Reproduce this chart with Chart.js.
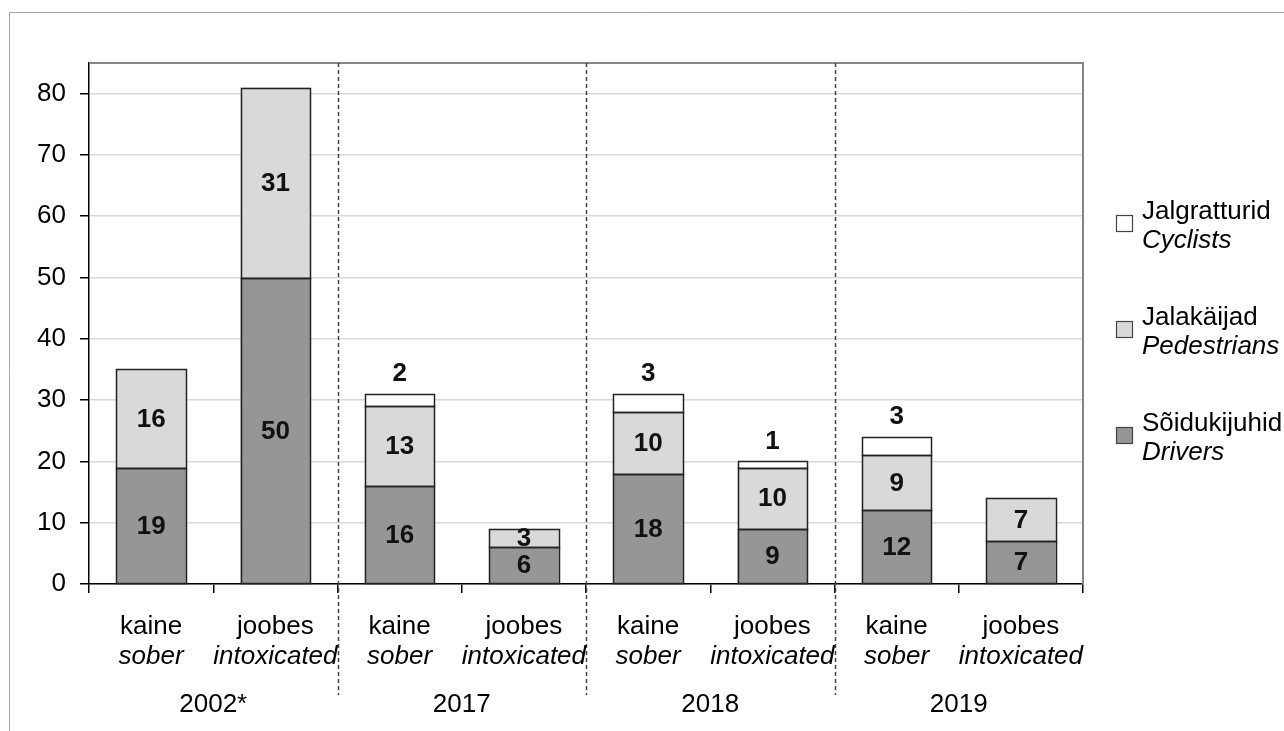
<!DOCTYPE html>
<html>
<head>
<meta charset="utf-8">
<script src="https://cdn.jsdelivr.net/npm/chart.js@4.4.1/dist/chart.umd.min.js"></script>
<style>
  html, body { margin: 0; padding: 0; background: #fff; }
  #wrap { position: relative; width: 1284px; height: 731px; }
</style>
</head>
<body>
<div id="wrap"><canvas id="chart" width="1284" height="731"></canvas></div>
<script>
// categories: state (Estonian / English) per year
const stateEt = ['kaine', 'joobes', 'kaine', 'joobes', 'kaine', 'joobes', 'kaine', 'joobes']
const stateEn = ['sober', 'intoxicated', 'sober', 'intoxicated', 'sober', 'intoxicated', 'sober', 'intoxicated']
const years = ['2002*', '2017', '2018', '2019']

// series
const drivers = [19, 50, 16, 6, 18, 9, 12, 7]
const pedestrians = [16, 31, 13, 3, 10, 10, 9, 7]
const cyclists = [0, 0, 2, 0, 3, 1, 3, 0]

const yTicks = [0, 10, 20, 30, 40, 50, 60, 70, 80]

const seriesNames = [
  ['Jalgratturid', 'Cyclists'],
  ['Jalakäijad', 'Pedestrians'],
  ['Sõidukijuhid', 'Drivers'],
]
const seriesColors = ['#ffffff', '#d9d9d9', '#969696']

const FONT = '"Liberation Sans", Arial, sans-serif'
const FS = 26

const framePlugin = {
  id: 'frame',
  beforeDraw(chart) {
    const ctx = chart.ctx
    ctx.save()
    ctx.strokeStyle = '#a6a6a6'
    ctx.lineWidth = 1
    ctx.beginPath()
    ctx.moveTo(9.5, 731)
    ctx.lineTo(9.5, 12.5)
    ctx.lineTo(1284, 12.5)
    ctx.stroke()
    ctx.restore()
  },
  afterDatasetsDraw(chart) {
    // crisp bar outlines
    const ctx = chart.ctx
    ctx.save()
    ctx.strokeStyle = '#222'
    ctx.lineWidth = 1.5
    chart.data.datasets.forEach((ds, di) => {
      chart.getDatasetMeta(di).data.forEach((el, i) => {
        if (!ds.data[i]) return
        const l = Math.round(el.x - el.width / 2) + 0.5
        const r = Math.round(el.x + el.width / 2) + 0.5
        const t = Math.round(el.y) + 0.5
        const b = Math.round(el.base) + 0.5
        ctx.strokeRect(l, t, r - l, b - t)
      })
    })
    ctx.restore()
  },
  afterDraw(chart) {
    const ctx = chart.ctx
    const area = chart.chartArea
    const x = chart.scales.x
    ctx.save()
    // plot area top / right border
    ctx.strokeStyle = '#858585'
    ctx.lineWidth = 2
    ctx.beginPath()
    ctx.moveTo(area.left, area.top)
    ctx.lineTo(area.right, area.top)
    ctx.lineTo(area.right, area.bottom)
    ctx.stroke()

    // dashed year separators
    ctx.strokeStyle = '#444'
    ctx.lineWidth = 1.5
    ctx.setLineDash([4, 3])
    for (let i = 1; i < years.length; i++) {
      const sx = Math.round((x.getPixelForValue(i * 2 - 1) + x.getPixelForValue(i * 2)) / 2) + 0.5
      ctx.beginPath()
      ctx.moveTo(sx, area.top)
      ctx.lineTo(sx, 695)
      ctx.stroke()
    }
    ctx.setLineDash([])

    // category labels
    ctx.fillStyle = '#000'
    ctx.textAlign = 'center'
    ctx.textBaseline = 'middle'
    stateEt.forEach((s, i) => {
      const cx = x.getPixelForValue(i)
      ctx.font = FS + 'px ' + FONT
      ctx.fillText(s, cx, 627)
      ctx.font = 'italic ' + FS + 'px ' + FONT
      ctx.fillText(stateEn[i], cx, 657)
    })
    ctx.font = FS + 'px ' + FONT
    years.forEach((yr, i) => {
      const cx = (x.getPixelForValue(i * 2) + x.getPixelForValue(i * 2 + 1)) / 2
      ctx.fillText(yr, cx, 705)
    })

    // value labels
    ctx.font = 'bold ' + FS + 'px ' + FONT
    ctx.fillStyle = '#111'
    chart.data.datasets.forEach((ds, di) => {
      const meta = chart.getDatasetMeta(di)
      meta.data.forEach((el, i) => {
        const v = ds.data[i]
        if (!v) return
        if (ds.label === 'Cyclists') {
          ctx.fillText(String(v), el.x, el.y - 20)
        } else {
          ctx.fillText(String(v), el.x, (el.y + el.base) / 2 + 1)
        }
      })
    })

    // legend
    const legendY = [223, 329, 435]
    seriesNames.forEach((names, i) => {
      const cy = legendY[i]
      ctx.fillStyle = seriesColors[i]
      ctx.fillRect(1116, cy - 8, 17, 17)
      ctx.strokeStyle = '#444'
      ctx.lineWidth = 1.2
      ctx.strokeRect(1116.5, cy - 7.5, 16, 16)
      ctx.fillStyle = '#000'
      ctx.textAlign = 'left'
      ctx.font = FS + 'px ' + FONT
      ctx.fillText(names[0], 1142, cy - 11)
      ctx.font = 'italic ' + FS + 'px ' + FONT
      ctx.fillText(names[1], 1142, cy + 18)
    })
    ctx.restore()
  }
}

new Chart(document.getElementById('chart'), {
  type: 'bar',
  data: {
    labels: stateEn,
    datasets: [
      { label: 'Drivers', data: drivers, backgroundColor: seriesColors[2] },
      { label: 'Pedestrians', data: pedestrians, backgroundColor: seriesColors[1] },
      { label: 'Cyclists', data: cyclists, backgroundColor: seriesColors[0] },
    ].map(d => Object.assign(d, {
      borderWidth: 0,
      barPercentage: 0.56,
      categoryPercentage: 1,
    })),
  },
  options: {
    responsive: false,
    animation: false,
    layout: { padding: { top: 63, right: 201, left: 0, bottom: 0 } },
    plugins: {
      legend: { display: false },
      tooltip: { enabled: false },
    },
    scales: {
      x: {
        stacked: true,
        afterFit: s => { s.height = 147 },
        ticks: { display: false },
        grid: { offset: true, drawOnChartArea: false, tickLength: 9, tickColor: '#000', lineWidth: 1.5 },
        border: { color: '#000', width: 1.5 },
      },
      y: {
        stacked: true,
        min: 0,
        max: 85,
        afterFit: s => { s.width = 89 },
        afterBuildTicks: s => { s.ticks = yTicks.map(v => ({ value: v })) },
        ticks: { color: '#000', padding: 14, font: { family: FONT, size: FS } },
        grid: { color: '#d9d9d9', lineWidth: 1.5, tickLength: 9, tickColor: '#000' },
        border: { color: '#000', width: 1.5 },
      },
    },
  },
  plugins: [framePlugin],
})
</script>
</body>
</html>
